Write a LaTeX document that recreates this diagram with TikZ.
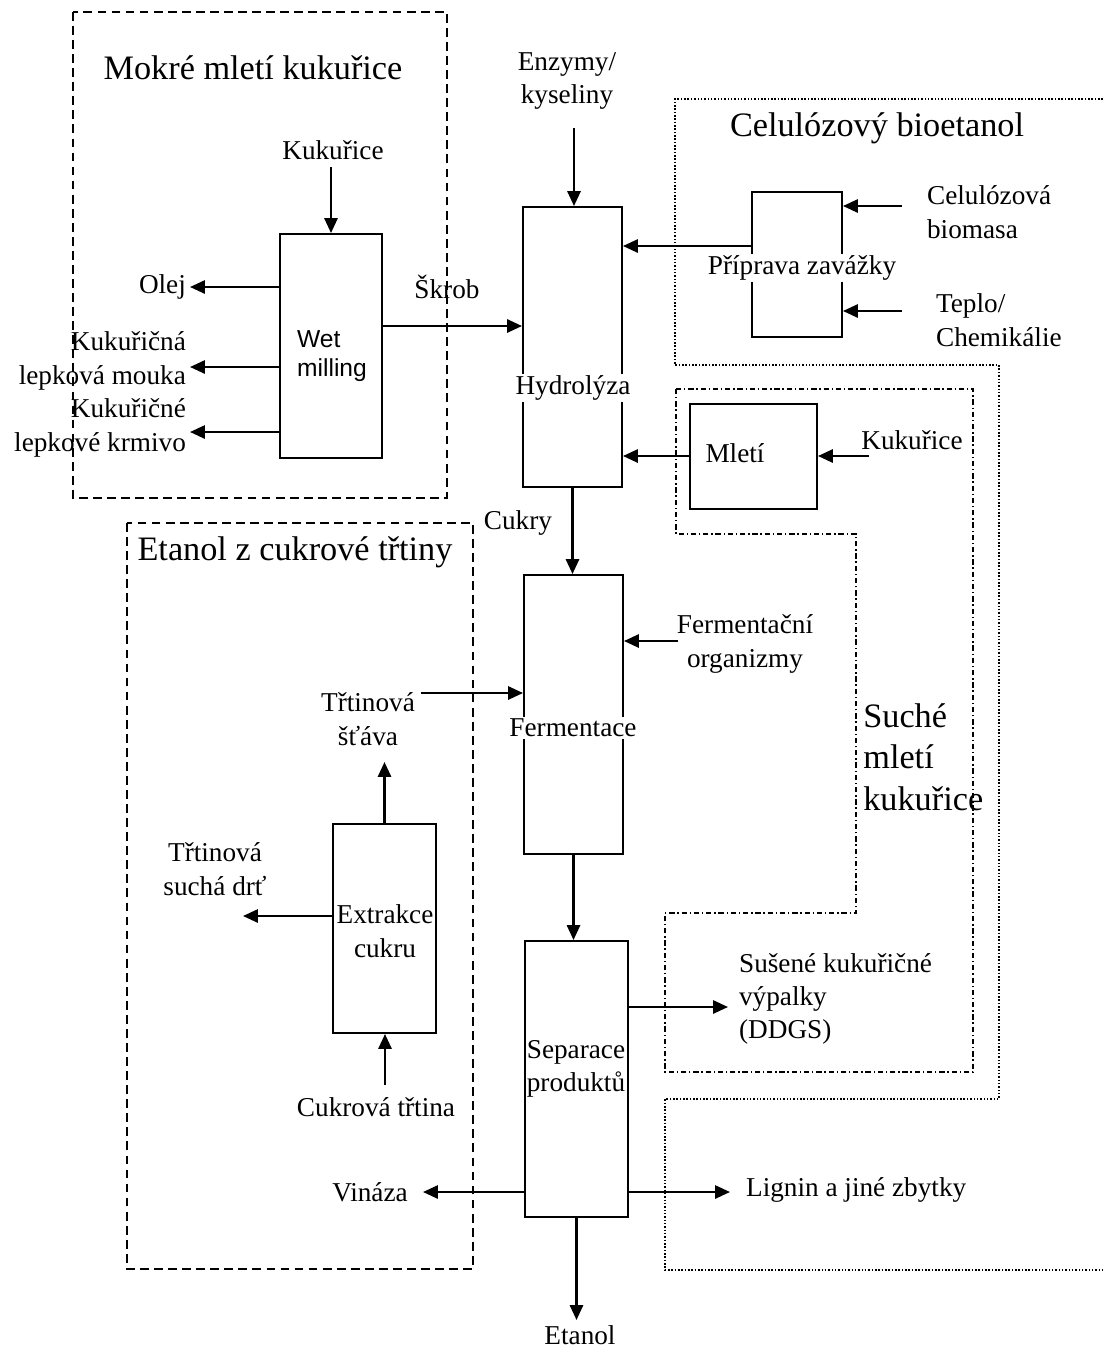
\documentclass[tikz,border=0pt]{standalone}
\usepackage{fontspec}
\setmainfont{Liberation Serif}
\newfontfamily\wetfont{Liberation Sans}
\usetikzlibrary{arrows.meta,fit}

\begin{document}
\begin{tikzpicture}[x=0.02cm, y=-0.02cm,
    box/.style={draw, line width=1.1pt, inner sep=0pt},
    lbl/.style={font=\fontsize{15.5}{19}\selectfont, inner sep=1pt, align=center},
    ttl/.style={font=\fontsize{19.5}{23.5}\selectfont, inner sep=0pt, align=left},
    inbox/.style={lbl, fill=white},
    arr/.style={line width=1.35pt, -{Triangle[length=8.5pt,width=7.5pt]}},
    wetreg/.style={line width=1pt, dash pattern=on 5pt off 3pt},
    dryreg/.style={line width=0.9pt, dash pattern=on 3pt off 1.6pt on 0.8pt off 1.6pt},
    celreg/.style={line width=0.9pt, densely dotted}]

\useasboundingbox (0,0) rectangle (1103,1350);

% oblasti
\draw[celreg] (1103,99) -- (675,99) -- (675,365) -- (999,365) -- (999,1099) -- (665,1099) -- (665,1270) -- (1103,1270);
\draw[dryreg] (676,389) -- (973,389) -- (973,1072) -- (665,1072) -- (665,913) -- (856,913) -- (856,534) -- (676,534) -- cycle;
\draw[wetreg] (73,12) rectangle (447,498);
\draw[wetreg] (127,523) rectangle (473,1269);

\node[ttl] (tMokre) at (253,68) {Mokré mletí kukuřice};
\node[ttl] (tCel) at (877,128) {Celulózový bioetanol};
\node[ttl] (tCane) at (295,552) {Etanol z cukrové třtiny};
\node[ttl, anchor=west] (tDry) at (863,757) {Suché\\mletí\\kukuřice};

% bloky
\node[box, fit={(280,234) (382,458)}] (wet) {};
\node[box, fit={(523,207) (622,487)}] (hydro) {};
\node[box, fit={(752,192) (842,337)}] (prip) {};
\node[box, fit={(690,404) (817,509)}] (mleti) {};
\node[box, fit={(524,575) (623,854)}] (ferm) {};
\node[box, fit={(333,824) (436,1033)}] (extr) {};
\node[box, fit={(525,941) (628,1217)}] (sep) {};

\node[lbl, font=\wetfont\fontsize{14}{16.5}\selectfont, align=left] (wetT) at (332,356) {Wet\\milling};
\node[inbox] (hydroT) at (573,388) {Hydrolýza};
\node[inbox] (pripT) at (802,268) {Příprava zavážky};
\node[lbl] (mletiT) at (735,453) {Mletí};
\node[inbox] (fermT) at (573,728) {Fermentace};
\node[lbl] (extrT) at (385,931) {Extrakce\\cukru};
\node[lbl] (sepT) at (576,1069) {Separace\\produktů};

% popisky
\node[lbl] (kuk1) at (333,150) {Kukuřice};
\node[lbl, anchor=east] (olej) at (188,287) {Olej};
\node[lbl, anchor=east, align=right] (mouka) at (188,361) {Kukuřičná\\lepková mouka};
\node[lbl, anchor=east, align=right] (krmivo) at (188,428) {Kukuřičné\\lepkové krmivo};
\node[lbl] (skrob) at (447,287) {Škrob};
\node[lbl] (enz) at (567,81) {Enzymy/\\kyseliny};
\node[lbl, anchor=west, align=left] (biom) at (925,212) {Celulózová\\biomasa};
\node[lbl, anchor=west, align=left] (teplo) at (934,320) {Teplo/\\Chemikálie};
\node[lbl] (kuk2) at (912,440) {Kukuřice};
\node[lbl] (cukry) at (518,523) {Cukry};
\node[lbl] (ferorg) at (745,644) {Fermentační\\organizmy};
\node[lbl] (stava) at (368,719) {Třtinová\\šťáva};
\node[lbl] (drt) at (215,869) {Třtinová\\suchá drť};
\node[lbl] (cane) at (376,1107) {Cukrová třtina};
\node[lbl, anchor=west, align=left] (ddgs) at (737,999) {Sušené kukuřičné\\výpalky\\(DDGS)};
\node[lbl] (vinaza) at (370,1192) {Vináza};
\node[lbl, anchor=west] (lignin) at (744,1190) {Lignin a jiné zbytky};
\node[lbl] (etanol) at (580,1335) {Etanol};

% volne konce sipek
\coordinate (kukIn) at (331,167);
\coordinate (olejTip) at (190,287);
\coordinate (moukaTip) at (190,367);
\coordinate (krmTip) at (190,432);
\coordinate (skrobY) at (450,326);
\coordinate (enzIn) at (574,128);
\coordinate (biomIn) at (902,206);
\coordinate (teploIn) at (902,311);
\coordinate (pripY) at (700,246);
\coordinate (kukIn2) at (869,456);
\coordinate (fermIn) at (678,641);
\coordinate (stavaIn) at (421,693);
\coordinate (stavaTip) at (385,762);
\coordinate (drtTip) at (243,916);
\coordinate (caneIn) at (385,1085);
\coordinate (ddgsTip) at (728,1007);
\coordinate (vinTip) at (423,1192);
\coordinate (ligTip) at (730,1192);
\coordinate (etTip) at (576,1320);

\draw[arr] (kukIn) -- (kukIn |- wet.north);
\draw[arr] (olejTip -| wet.west) -- (olejTip);
\draw[arr] (moukaTip -| wet.west) -- (moukaTip);
\draw[arr] (krmTip -| wet.west) -- (krmTip);
\draw[arr] (skrobY -| wet.east) -- (skrobY -| hydro.west);
\draw[arr] (enzIn) -- (enzIn |- hydro.north);
\draw[arr] (biomIn) -- (biomIn -| prip.east);
\draw[arr] (teploIn) -- (teploIn -| prip.east);
\draw[arr] (pripY -| prip.west) -- (pripY -| hydro.east);
\draw[arr] (kukIn2) -- (kukIn2 -| mleti.east);
\draw[arr] (kukIn2 -| mleti.west) -- (kukIn2 -| hydro.east);
\draw[arr] (hydro.south) -- (hydro.south |- ferm.north);
\draw[arr] (fermIn) -- (fermIn -| ferm.east);
\draw[arr] (stavaIn) -- (stavaIn -| ferm.west);
\draw[arr] (ferm.south) -- (ferm.south |- sep.north);
\draw[arr] (extr.north) -- (extr.north |- stavaTip);
\draw[arr] (drtTip -| extr.west) -- (drtTip);
\draw[arr] (caneIn) -- (caneIn |- extr.south);
\draw[arr] (ddgsTip -| sep.east) -- (ddgsTip);
\draw[arr] (vinTip -| sep.west) -- (vinTip);
\draw[arr] (ligTip -| sep.east) -- (ligTip);
\draw[arr] (sep.south) -- (sep.south |- etTip);

\end{tikzpicture}
\end{document}
